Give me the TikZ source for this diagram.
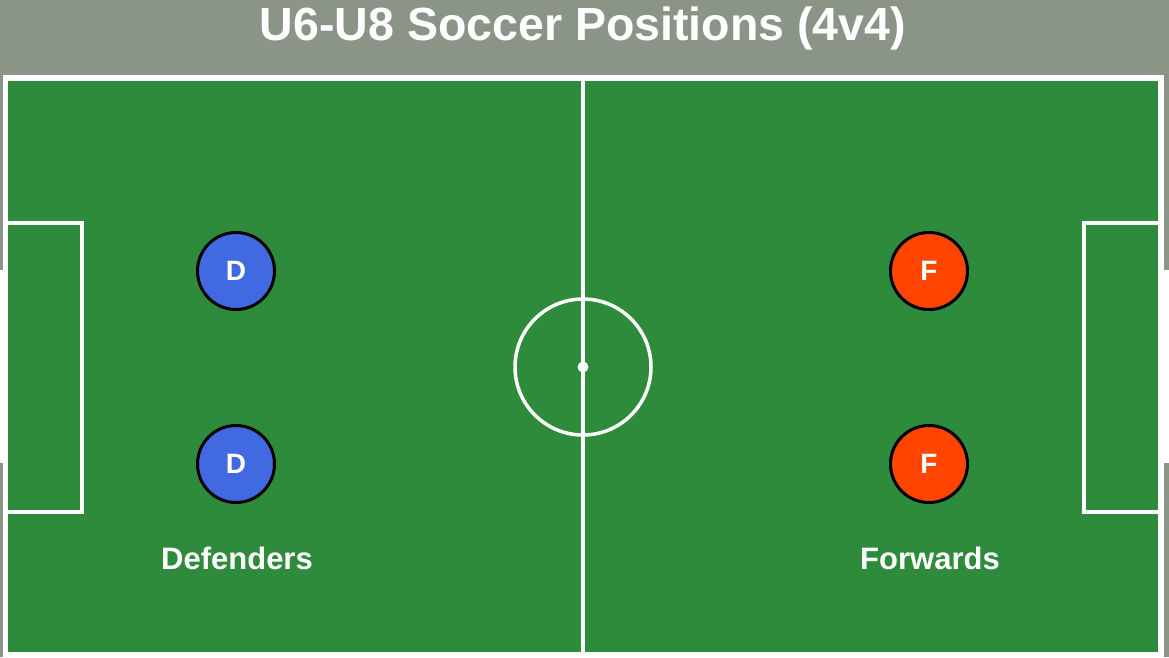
\documentclass[tikz,border=0pt]{standalone}
\usepackage{fontspec}
\setmainfont{Liberation Sans}
\usepackage{tikz}
\usetikzlibrary{positioning}
\definecolor{panelgray}{HTML}{8A9588}
\definecolor{pitchgreen}{HTML}{2E8B3C}
\definecolor{defblue}{HTML}{4169E1}
\definecolor{fwdorange}{HTML}{FF4500}
\tikzset{pitchline/.style={draw=white,line width=4pt},
  player/.style={circle,draw=black,line width=3pt,minimum size=77pt,inner sep=0pt,
    text=white,font=\fontsize{28}{28}\selectfont\bfseries},
  poslabel/.style={text=white,font=\fontsize{31}{31}\selectfont\bfseries,anchor=base}}

\begin{document}
\begin{tikzpicture}[x=1pt,y=-1pt]
  \useasboundingbox (0,0) rectangle (1169,657);
  \fill [panelgray] (0,0) rectangle (1169,657);
  \fill [white] (0,270) rectangle (4,463);
  \fill [white] (1163,270) rectangle (1169,463);

  \draw [pitchline,fill=pitchgreen,line width=5.5pt] (5.5,78) rectangle (1161,655);
  \draw [pitchline,line width=3.5pt] (583,78) -- (583,655);
  \draw [pitchline,line width=3.5pt] (583,367) circle (68);
  \fill [white] (583,367) circle (5.5);

  \draw [pitchline] (5.5,223) rectangle (82,512);
  \draw [pitchline] (1161,223) rectangle (1084,512);

  \node (title) [text=white,font=\fontsize{46.5}{46.5}\selectfont\bfseries,anchor=base] at (583,40) {U6-U8 Soccer Positions (4v4)};

  \node (d1) [player,fill=defblue] at (236,271) {D};
  \node (d2) [player,fill=defblue] at (236,464) {D};
  \node (f1) [player,fill=fwdorange] at (929,271) {F};
  \node (f2) [player,fill=fwdorange] at (929,464) {F};

  \node (defenders) [poslabel] at (237,569) {Defenders};
  \node (forwards) [poslabel] at (930,569) {Forwards};
\end{tikzpicture}
\end{document}
